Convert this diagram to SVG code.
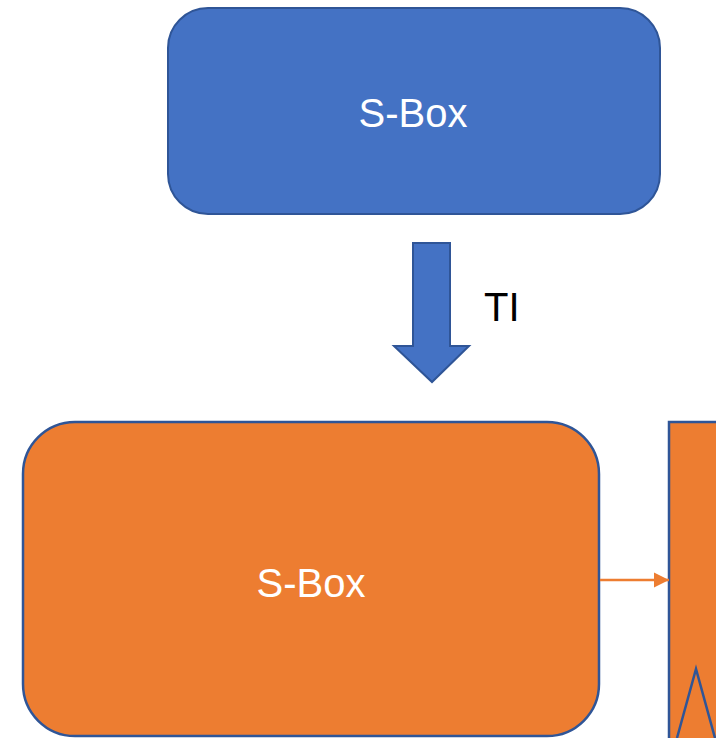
<svg xmlns="http://www.w3.org/2000/svg" width="716" height="738" viewBox="0 0 716 738">
<style>
.blue{fill:#4472C4;stroke:#2F5597;stroke-width:2}
.orange{fill:#ED7D31;stroke:#2F5597;stroke-width:2.5}
.lbl{font-family:"Liberation Sans",Arial,sans-serif;font-size:40px;fill:#ffffff;text-anchor:middle}
.ti{font-family:"Liberation Sans",Arial,sans-serif;font-size:40px;fill:#000000}
</style>
<defs>
<marker id="ah" markerWidth="16" markerHeight="16" refX="15" refY="8" orient="auto" markerUnits="userSpaceOnUse">
<path d="M0,0.5 L15,8 L0,15.5 Z" fill="#ED7D31"/>
</marker>
</defs>
<g id="sbox-top">
<rect class="blue" x="168" y="8" width="492" height="206" rx="40" ry="40"/>
<text class="lbl" x="413" y="127">S-Box</text>
</g>
<g id="sbox-bottom">
<rect class="orange" x="23" y="422" width="576" height="314" rx="52" ry="52"/>
<text class="lbl" x="311" y="597">S-Box</text>
</g>
<g id="right-block">
<rect class="orange" x="669" y="422" width="60" height="320"/>
<polyline points="677,738 696,669 715,738" fill="none" stroke="#2F5597" stroke-width="2.5"/>
</g>
<g id="connectors">
<path class="blue" d="M413,243 L450,243 L450,346 L469,346 L432,382 L394,346 L413,346 Z"/>
<text class="ti" x="484" y="321">TI</text>
<line x1="600" y1="580" x2="669" y2="580" stroke="#ED7D31" stroke-width="2.5" marker-end="url(#ah)"/>
</g>
</svg>
